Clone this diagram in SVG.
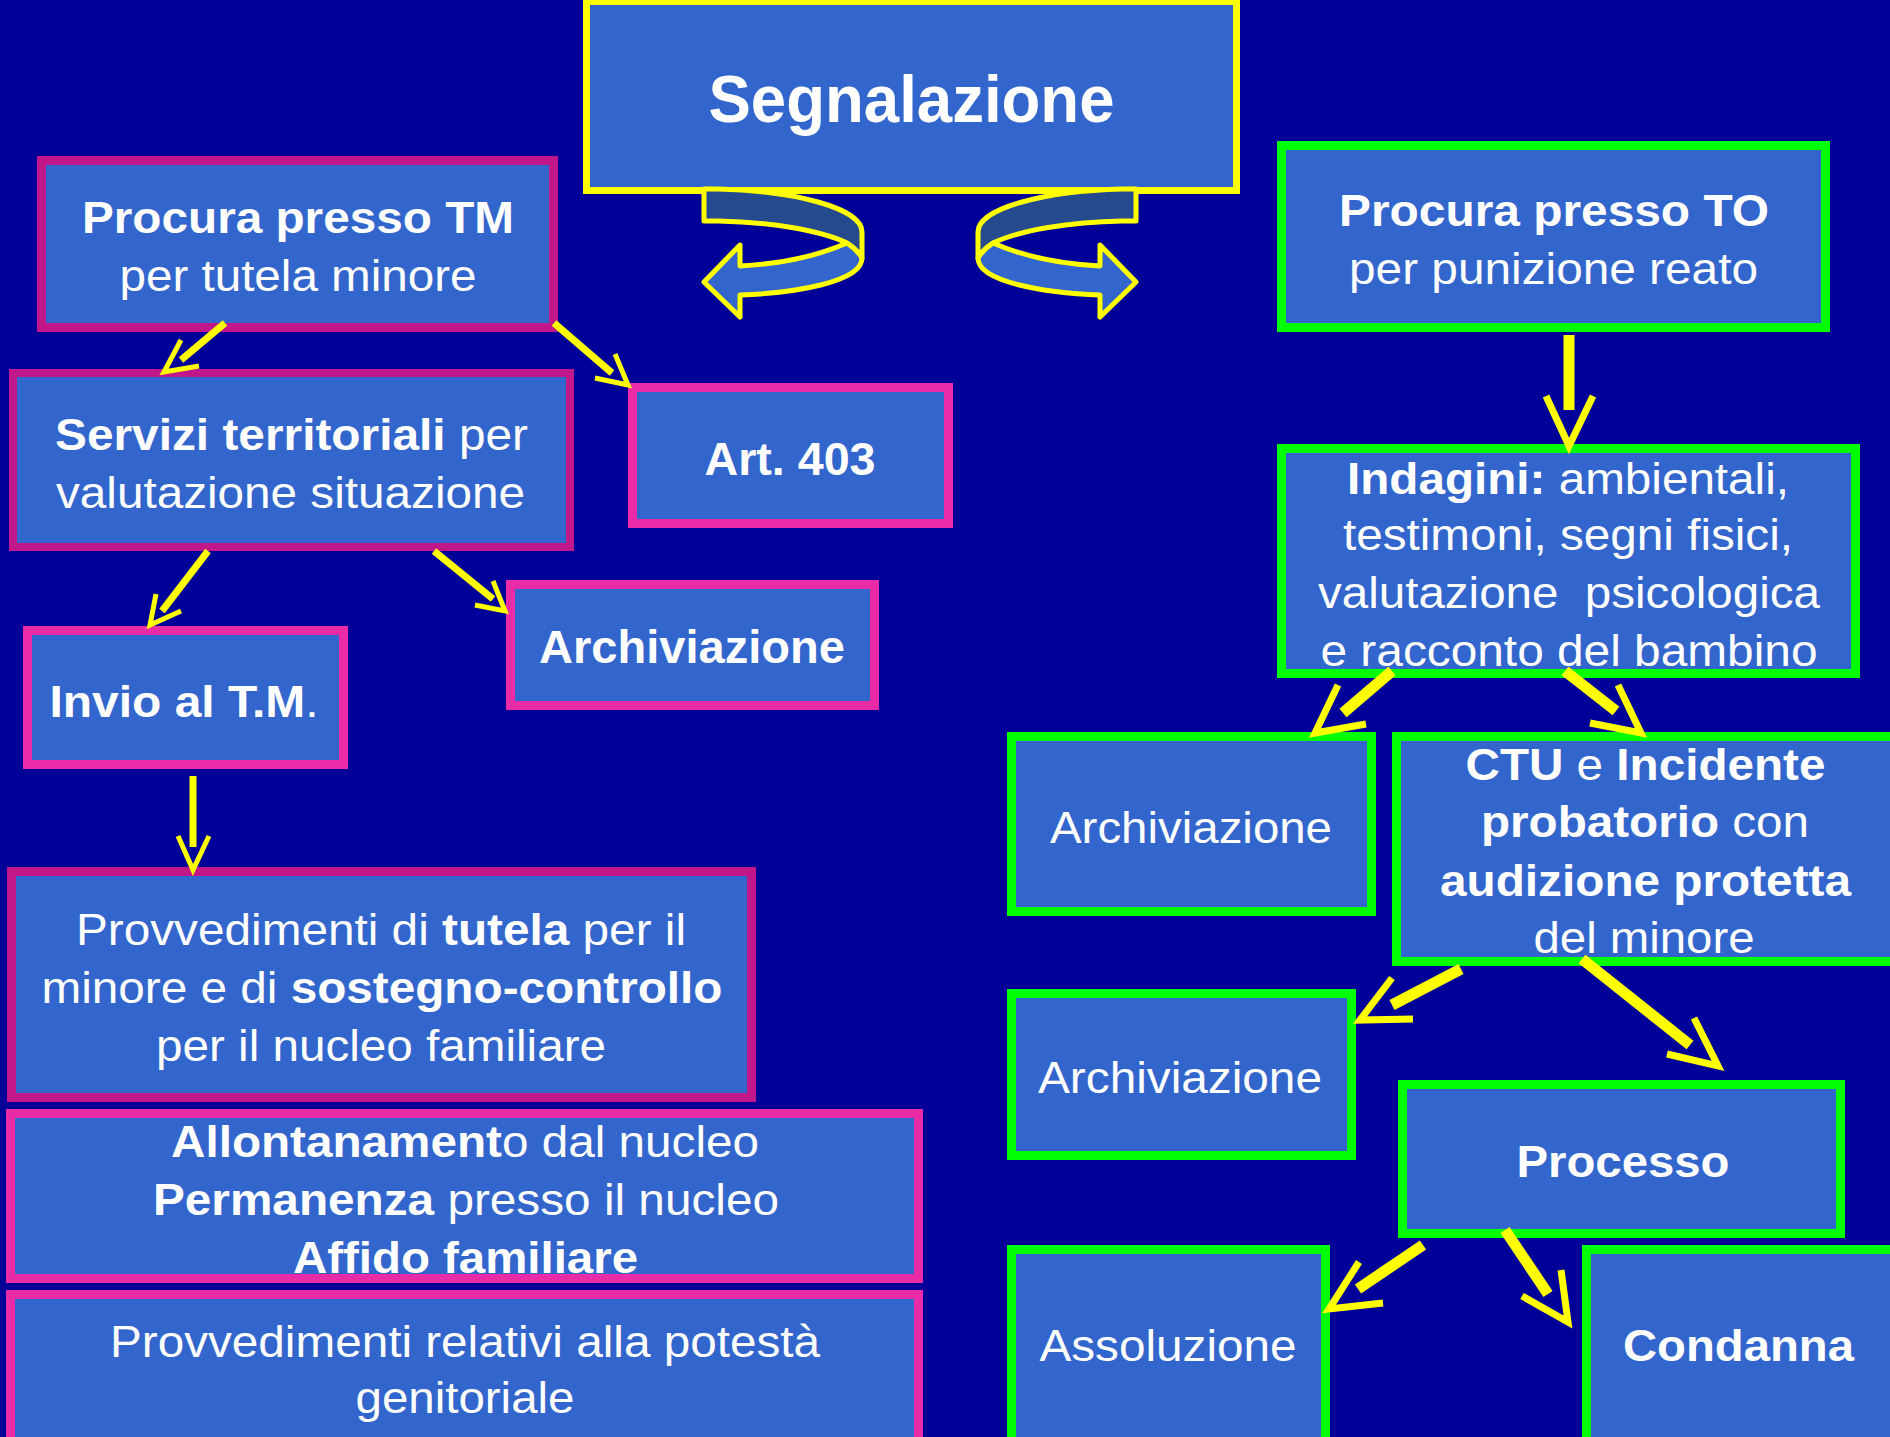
<svg xmlns="http://www.w3.org/2000/svg" width="1890" height="1437" viewBox="0 0 1890 1437">
<style>
.box{fill:#3366CC}
.ye{stroke:#FFFF00}
.pd{stroke:#C2168B}
.pl{stroke:#EA2BA8}
.gr{stroke:#00FF00}
.s9{stroke-width:9}
text{fill:#FFFFFF;font-family:"Liberation Sans",Arial,sans-serif;font-size:45px;text-anchor:middle;white-space:pre}
.b{font-weight:bold}
.big{font-size:66px}
.mid{font-size:47px}
.sh{fill:none;stroke:#FFFF00;stroke-width:7}
.shw{fill:none;stroke:#FFFF00;stroke-width:11}
.hd{fill:none;stroke:#FFFF00;stroke-width:5;stroke-linejoin:miter;stroke-miterlimit:10}
.hdw{fill:none;stroke:#FFFF00;stroke-width:7;stroke-linejoin:miter;stroke-miterlimit:10}
.rib{stroke:#FFFF00;stroke-width:5;stroke-linejoin:round}
</style>
<rect x="0" y="0" width="1890" height="1437" fill="#000099"/>

<g id="segnalazione">
<rect class="box ye" stroke-width="7" x="586.5" y="1.5" width="650" height="189"/>
<text class="b big" x="911.5" y="122" textLength="406" lengthAdjust="spacingAndGlyphs">Segnalazione</text>
</g>

<g id="procura-tm">
<rect class="box pd s9" x="41.5" y="160.5" width="512" height="167"/>
<text class="b" x="298" y="233" textLength="432" lengthAdjust="spacingAndGlyphs">Procura presso TM</text>
<text x="298" y="291" textLength="357" lengthAdjust="spacingAndGlyphs">per tutela minore</text>
</g>

<g id="servizi">
<rect class="box pd" stroke-width="8" x="13" y="373" width="557" height="174"/>
<text x="291.5" y="450" textLength="473" lengthAdjust="spacingAndGlyphs"><tspan class="b">Servizi territoriali</tspan> per</text>
<text x="290.5" y="508" textLength="469" lengthAdjust="spacingAndGlyphs">valutazione situazione</text>
</g>

<g id="art403">
<rect class="box pl s9" x="632.5" y="387.5" width="316" height="136"/>
<text class="b mid" x="790" y="475" textLength="171" lengthAdjust="spacingAndGlyphs">Art. 403</text>
</g>

<g id="archiviazione-tm">
<rect class="box pl s9" x="510.5" y="584.5" width="364" height="121"/>
<text class="b mid" x="692" y="663" textLength="306" lengthAdjust="spacingAndGlyphs">Archiviazione</text>
</g>

<g id="invio">
<rect class="box pl s9" x="27.5" y="630.5" width="316" height="134"/>
<text class="b" x="184" y="717" textLength="269" lengthAdjust="spacingAndGlyphs">Invio al T.M<tspan font-weight="normal">.</tspan></text>
</g>

<g id="provvedimenti-tutela">
<rect class="box pd s9" x="11.5" y="871.5" width="740" height="226"/>
<text x="381" y="945" textLength="610" lengthAdjust="spacingAndGlyphs">Provvedimenti di <tspan class="b">tutela</tspan> per il</text>
<text x="382" y="1003" textLength="681" lengthAdjust="spacingAndGlyphs">minore e di <tspan class="b">sostegno-controllo</tspan></text>
<text x="381" y="1061" textLength="450" lengthAdjust="spacingAndGlyphs">per il nucleo familiare</text>
</g>

<g id="allontanamento">
<rect class="box pl s9" x="10.5" y="1113.5" width="908" height="165"/>
<text x="465" y="1157" textLength="588" lengthAdjust="spacingAndGlyphs"><tspan class="b">Allontanament</tspan>o dal nucleo</text>
<text x="466" y="1215" textLength="626" lengthAdjust="spacingAndGlyphs"><tspan class="b">Permanenza</tspan> presso il nucleo</text>
<text class="b" x="465.5" y="1273" textLength="345" lengthAdjust="spacingAndGlyphs">Affido familiare</text>
</g>

<g id="provvedimenti-potesta">
<rect class="box pl s9" x="10.5" y="1294.5" width="908" height="160"/>
<text x="465" y="1357" textLength="710" lengthAdjust="spacingAndGlyphs">Provvedimenti relativi alla potestà</text>
<text x="465" y="1413" textLength="219" lengthAdjust="spacingAndGlyphs">genitoriale</text>
</g>

<g id="procura-to">
<rect class="box gr s9" x="1281.5" y="145.5" width="544" height="182"/>
<text class="b" x="1554" y="226" textLength="430" lengthAdjust="spacingAndGlyphs">Procura presso TO</text>
<text x="1553.5" y="284" textLength="409" lengthAdjust="spacingAndGlyphs">per punizione reato</text>
</g>

<g id="indagini">
<rect class="box gr s9" x="1281.5" y="448.5" width="574" height="225"/>
<text x="1568" y="494" textLength="442" lengthAdjust="spacingAndGlyphs"><tspan class="b">Indagini:</tspan> ambientali,</text>
<text x="1568" y="550" textLength="450" lengthAdjust="spacingAndGlyphs">testimoni, segni fisici,</text>
<text x="1569" y="608" textLength="502" lengthAdjust="spacingAndGlyphs">valutazione  psicologica</text>
<text x="1569" y="666" textLength="497" lengthAdjust="spacingAndGlyphs">e racconto del bambino</text>
</g>

<g id="archiviazione-to-1">
<rect class="box gr s9" x="1011.5" y="736.5" width="360" height="175"/>
<text x="1191" y="843" textLength="282" lengthAdjust="spacingAndGlyphs">Archiviazione</text>
</g>

<g id="ctu">
<rect class="box gr s9" x="1396.5" y="736.5" width="500" height="225"/>
<text x="1645.5" y="780" textLength="360" lengthAdjust="spacingAndGlyphs"><tspan class="b">CTU</tspan> e <tspan class="b">Incidente</tspan></text>
<text x="1645" y="837" textLength="328" lengthAdjust="spacingAndGlyphs"><tspan class="b">probatorio</tspan> con</text>
<text class="b" x="1645.5" y="896" textLength="411" lengthAdjust="spacingAndGlyphs">audizione protetta</text>
<text x="1644" y="953" textLength="221" lengthAdjust="spacingAndGlyphs">del minore</text>
</g>

<g id="archiviazione-to-2">
<rect class="box gr s9" x="1011.5" y="993.5" width="340" height="162"/>
<text x="1180" y="1093" textLength="284" lengthAdjust="spacingAndGlyphs">Archiviazione</text>
</g>

<g id="processo">
<rect class="box gr s9" x="1402.5" y="1084.5" width="438" height="149"/>
<text class="b" x="1623" y="1177" textLength="213" lengthAdjust="spacingAndGlyphs">Processo</text>
</g>

<g id="assoluzione">
<rect class="box gr s9" x="1011.5" y="1249.5" width="314" height="200"/>
<text x="1168" y="1361" textLength="257" lengthAdjust="spacingAndGlyphs">Assoluzione</text>
</g>

<g id="condanna">
<rect class="box gr s9" x="1586.5" y="1249.5" width="310" height="200"/>
<text class="b" x="1738.5" y="1361" textLength="231" lengthAdjust="spacingAndGlyphs">Condanna</text>
</g>

<g id="connectors">
<g id="curved-left">
<path class="rib" fill="#264A8E" d="M704,189 L718,189 C795,191 862,208 862,232 L862,258 C858,251 853,247 847,243 C820,230 770,222 718,221 L704,221 Z"/>
<path class="rib" fill="#3366CC" d="M847,243 C815,257 780,264 740,266 L740,245 L704,282 L740,317 L740,295 C795,293 862,282 862,258 C858,251 853,247 847,243 Z"/>
</g>
<g id="curved-right" transform="matrix(-1 0 0 1 1840 0)">
<path class="rib" fill="#264A8E" d="M704,189 L718,189 C795,191 862,208 862,232 L862,258 C858,251 853,247 847,243 C820,230 770,222 718,221 L704,221 Z"/>
<path class="rib" fill="#3366CC" d="M847,243 C815,257 780,264 740,266 L740,245 L704,282 L740,317 L740,295 C795,293 862,282 862,258 C858,251 853,247 847,243 Z"/>
</g>
<line class="sh" x1="225" y1="323" x2="181" y2="360"/>
<polyline class="hd" points="181,340 164,372 199,366"/>
<line class="sh" x1="554" y1="323" x2="612" y2="373"/>
<polyline class="hd" points="615,354 628,385 595,378"/>
<line class="sh" x1="208" y1="551" x2="162" y2="611"/>
<polyline class="hd" points="156,594 150,625 181,611"/>
<line class="sh" x1="434" y1="551" x2="493" y2="599"/>
<polyline class="hd" points="493,581 505,611 475,605"/>
<line class="sh" x1="193" y1="776" x2="193" y2="847"/>
<polyline class="hd" points="178,836 193,870 209,836"/>
<line class="shw" x1="1569" y1="335" x2="1569" y2="410"/>
<polyline class="hdw" points="1546,396 1569,446 1593,396"/>
<line class="shw" x1="1392" y1="671" x2="1343" y2="713"/>
<polyline class="hdw" points="1338,685 1315,733 1366,724"/>
<line class="shw" x1="1565" y1="671" x2="1616" y2="711"/>
<polyline class="hdw" points="1618,685 1641,733 1590,723"/>
<line class="shw" x1="1461" y1="969" x2="1392" y2="1005"/>
<polyline class="hdw" points="1392,978 1360,1020 1413,1019"/>
<line class="shw" x1="1582" y1="959" x2="1690" y2="1045"/>
<polyline class="hdw" points="1694,1018 1718,1066 1667,1054"/>
<line class="shw" x1="1423" y1="1245" x2="1358" y2="1289"/>
<polyline class="hdw" points="1359,1262 1329,1309 1383,1303"/>
<line class="shw" x1="1505" y1="1230" x2="1548" y2="1294"/>
<polyline class="hdw" points="1561,1270 1568,1322 1522,1296"/>
</g>
</svg>
